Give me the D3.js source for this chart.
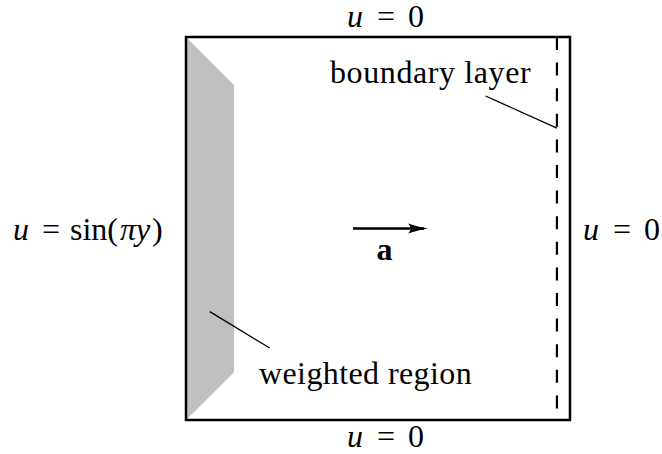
<!DOCTYPE html>
<html>
<head>
<meta charset="utf-8">
<style>
  body { margin: 0; background: #fff; }
  text { font-family: "Liberation Serif", "Times New Roman", serif; fill: #000; }
</style>
</head>
<body>
<script src="https://cdnjs.cloudflare.com/ajax/libs/d3/7.8.5/d3.min.js"></script>
<script>
// domain is the unit square, corners in (x, y)
const boxCorners = [[0, 0], [1, 0], [1, 1], [0, 1]];
// weighted region along the inflow edge
const weightedRegion = [[0, 1], [0.125, 0.875], [0.125, 0.125], [0, 0]];
// boundary layer position
const layerX = 0.966;
// advection direction
const arrowFrom = [0.435, 0.5];
const arrowTo = [0.62, 0.5];
// leader lines: [from, to]
const layerLeader = [[0.78, 0.846], [0.966, 0.762]];
const regionLeader = [[0.062, 0.283], [0.218, 0.188]];

// boundary condition labels: pieces [text, italic, x offset from label start]
const uZeroPieces = [["u", true, 0], ["=", false, 30], ["0", false, 61]];
const inflowPieces = [["u", true, 0], ["=", false, 29], ["sin(", false, 57],
                      ["πy", true, 107], [")", false, 139]];

const width = 662, height = 454;
const fontSize = 32;
const x = d3.scaleLinear().domain([0, 1]).range([186, 570]);
const y = d3.scaleLinear().domain([0, 1]).range([420, 37]);

const svg = d3.select("body").append("svg")
    .attr("width", width)
    .attr("height", height);

const line = d3.line().x(d => x(d[0])).y(d => y(d[1]));

// gray weighted region
svg.append("path")
    .attr("d", line(weightedRegion) + "Z")
    .attr("fill", "#c0c0c0");

// dashed boundary layer
svg.append("line")
    .attr("x1", x(layerX)).attr("x2", x(layerX))
    .attr("y1", y(1)).attr("y2", y(0))
    .attr("stroke", "#000")
    .attr("stroke-width", 2.2)
    .attr("stroke-dasharray", "13 12.6");

// domain border
svg.append("path")
    .attr("d", line(boxCorners) + "Z")
    .attr("fill", "none")
    .attr("stroke", "#000")
    .attr("stroke-width", 2.5);

// leaders
[layerLeader, regionLeader].forEach(l => {
    svg.append("path")
        .attr("d", line(l))
        .attr("stroke", "#000")
        .attr("stroke-width", 1.3);
});

// arrow shaft + head
const tipX = x(arrowTo[0]) + 4, tipY = y(arrowTo[1]);
const headLen = 20, headHalf = 5;
svg.append("path")
    .attr("d", line([arrowFrom, arrowTo]))
    .attr("stroke", "#000")
    .attr("stroke-width", 2.3)
    .attr("fill", "none");
svg.append("path")
    .attr("d", `M${tipX},${tipY}
                Q${tipX - 8},${tipY - 1} ${tipX - headLen},${tipY - headHalf}
                Q${tipX - headLen + 5},${tipY} ${tipX - headLen},${tipY + headHalf}
                Q${tipX - 8},${tipY + 1} ${tipX},${tipY} Z`)
    .attr("fill", "#000");

// labels
function mathLabel(px, py, pieces) {
    const g = svg.append("g").attr("transform", `translate(${px},${py})`);
    g.selectAll("text")
        .data(pieces)
        .join("text")
        .attr("x", d => d[2])
        .attr("font-size", fontSize)
        .attr("font-style", d => d[1] ? "italic" : "normal")
        .text(d => d[0]);
}

mathLabel(347, 27, uZeroPieces);
mathLabel(347, 447, uZeroPieces);
mathLabel(583, 240, uZeroPieces);
mathLabel(13, 240, inflowPieces);

svg.append("text")
    .attr("x", 330).attr("y", 83)
    .attr("font-size", fontSize)
    .attr("letter-spacing", 0.6)
    .text("boundary layer");

svg.append("text")
    .attr("x", 259).attr("y", 384)
    .attr("font-size", fontSize)
    .attr("letter-spacing", 0.4)
    .text("weighted region");

svg.append("text")
    .attr("x", x(0.517)).attr("y", 260)
    .attr("text-anchor", "middle")
    .attr("font-size", fontSize)
    .attr("font-weight", "bold")
    .text("a");
</script>
</body>
</html>
